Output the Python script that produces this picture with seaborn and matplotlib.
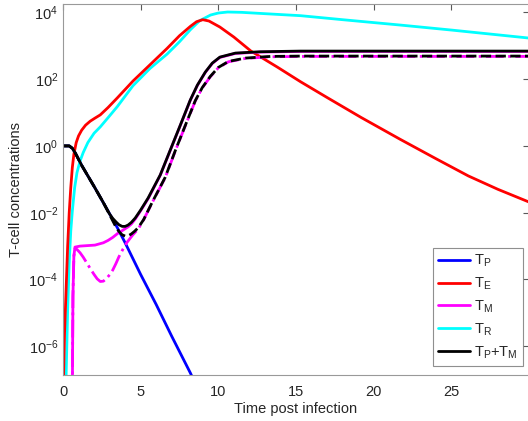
import numpy as np
import pandas as pd
import seaborn as sns
import matplotlib
matplotlib.use('Agg')
import matplotlib.pyplot as plt
from matplotlib.ticker import LogLocator, NullFormatter

# values: time and log10 of concentration
t_P = [0, 0.4, 0.6, 0.8, 1.2, 2.06, 2.9, 3.5, 4.0, 5.0, 6.0, 7.0, 8.2, 9.0]
lg_P = [0, 0, -0.07, -0.22, -0.58, -1.26, -1.95, -2.45, -2.9, -3.85, -4.75, -5.7, -6.8, -7.6]

t_E = [0.0, 0.1, 0.2, 0.3, 0.4, 0.5, 0.6, 0.7, 0.85, 1.0, 1.2, 1.45, 1.75, 2.05, 2.4, 2.9,
       3.5, 4.5, 5.6, 6.7, 7.5, 8.2, 8.6, 9.0, 9.4, 10.1, 11.0, 12.1, 13.8, 15.3, 17.0,
       19.2, 21.7, 24.0, 26.1, 28.0, 30.0]
lg_E = [-7.6, -5.6, -4.3, -3.0, -2.0, -1.25, -0.65, -0.25, 0.1, 0.3, 0.47, 0.62, 0.74,
        0.83, 0.93, 1.15, 1.44, 1.94, 2.43, 2.92, 3.3, 3.58, 3.72, 3.78, 3.74, 3.56, 3.26,
        2.84, 2.36, 1.92, 1.45, 0.85, 0.2, -0.38, -0.9, -1.3, -1.68]

t_R = [0.1, 0.2, 0.3, 0.4, 0.5, 0.6, 0.75, 0.9, 1.1, 1.3, 1.6, 2.0, 2.4, 3.0, 3.5, 4.5,
       5.6, 6.7, 7.5, 8.2, 8.8, 9.5, 10.0, 10.6, 11.5, 13.0, 15.3, 18.0, 21.7, 25.0, 30.0]
lg_R = [-9, -6.9, -4.9, -3.5, -2.55, -1.95, -1.25, -0.8, -0.45, -0.2, 0.1, 0.38, 0.57, 0.9,
        1.18, 1.8, 2.32, 2.75, 3.12, 3.48, 3.75, 3.92, 3.98, 4.01, 4.0, 3.96, 3.9, 3.78,
        3.62, 3.47, 3.23]

t_M = [0.6, 0.64, 0.7, 0.77, 1.1, 2.06, 2.6, 2.9, 3.2, 3.55, 3.8, 4.0, 4.2, 4.4, 4.65, 5.0,
       5.48, 6.26, 6.9, 7.55, 8.19, 8.65, 9.16, 9.61, 10.1, 11.1, 12.7, 15.3, 30.0]
lg_M = [-7.5, -4.5, -3.3, -3.03, -3.0, -2.97, -2.9, -2.83, -2.74, -2.61, -2.54, -2.48,
        -2.42, -2.34, -2.19, -1.94, -1.58, -0.88, -0.14, 0.61, 1.36, 1.81, 2.2, 2.47,
        2.65, 2.77, 2.81, 2.83, 2.83]

t_M2 = [0.6, 0.64, 0.7, 0.77, 0.9, 1.1, 1.3, 1.5, 1.75, 2.0, 2.2, 2.4, 2.6, 2.8, 3.0, 3.2,
        3.4, 3.6, 3.85, 4.1, 4.5, 4.84, 5.2, 5.74, 6.58, 7.23, 7.87, 8.52, 8.97, 9.48,
        10.0, 10.65, 11.74, 13.35, 15.3, 30.0]
lg_M2 = [-7.5, -4.5, -3.3, -3.08, -3.1, -3.2, -3.33, -3.48, -3.67, -3.85, -3.98, -4.06,
         -4.05, -3.97, -3.86, -3.72, -3.53, -3.32, -3.1, -2.9, -2.66, -2.49, -2.2, -1.7,
         -0.95, -0.15, 0.6, 1.35, 1.74, 2.07, 2.34, 2.52, 2.62, 2.67, 2.68, 2.68]

t_PM = [0, 0.4, 0.6, 0.8, 1.2, 2.06, 2.6, 3.0, 3.2, 3.42, 3.6, 3.81, 4.0, 4.19, 4.4, 4.65,
        5.0, 5.48, 6.26, 6.9, 7.55, 8.19, 8.65, 9.16, 9.61, 10.1, 11.1, 12.7, 15.3, 30.0]
lg_PM = [0, 0, -0.07, -0.22, -0.58, -1.26, -1.7, -2.04, -2.17, -2.28, -2.36, -2.41, -2.41,
         -2.37, -2.29, -2.16, -1.92, -1.56, -0.87, -0.13, 0.62, 1.37, 1.82, 2.21, 2.48,
         2.66, 2.78, 2.82, 2.84, 2.84]

t_PM2 = [0, 0.4, 0.6, 0.8, 1.2, 2.06, 2.6, 3.0, 3.2, 3.4, 3.6, 3.8, 4.0, 4.2, 4.39, 4.6,
         4.84, 5.2, 5.74, 6.58, 7.23, 7.87, 8.52, 8.97, 9.48, 10.0, 10.65, 11.74, 13.35,
         15.3, 30.0]
lg_PM2 = [0, 0, -0.07, -0.22, -0.58, -1.26, -1.7, -2.06, -2.24, -2.42, -2.56, -2.66,
          -2.7, -2.69, -2.64, -2.56, -2.45, -2.2, -1.69, -0.94, -0.14, 0.61, 1.36, 1.75,
          2.08, 2.35, 2.53, 2.63, 2.68, 2.69, 2.69]

sns.set_style('white')
plt.rcParams['font.family'] = ['Liberation Sans', 'DejaVu Sans']
plt.rcParams['mathtext.default'] = 'regular'
plt.rcParams['font.size'] = 10

fig = plt.figure(figsize=(5.28, 4.21), dpi=100)
ax = fig.add_axes([63 / 528, 46 / 421, 466 / 528, 371 / 421])


def draw(t, lg, color, ls='-'):
    df = pd.DataFrame({'t': t, 'v': 10 ** np.array(lg, dtype=float)})
    sns.lineplot(data=df, x='t', y='v', color=color, linestyle=ls, lw=2,
                 estimator=None, sort=False, ax=ax, legend=False)


draw(t_P, lg_P, '#0000ff')
draw(t_R, lg_R, '#00ffff')
draw(t_E, lg_E, '#ff0000')
draw(t_M, lg_M, '#ff00ff')
draw(t_M2, lg_M2, '#ff00ff', ls='-.')
draw(t_PM, lg_PM, 'black')
draw(t_PM2, lg_PM2, 'black', ls='--')

ax.set_yscale('log')
ax.set_xlim(0, 30)
ax.set_ylim(10 ** -6.86, 10 ** 4.25)
ax.set_xticks([0, 5, 10, 15, 20, 25])
ax.set_yticks([1e-6, 1e-4, 1e-2, 1e0, 1e2, 1e4])
ax.yaxis.set_minor_locator(LogLocator(base=10, subs=np.arange(1, 10), numticks=30))
ax.yaxis.set_minor_formatter(NullFormatter())
ax.tick_params(which='both', direction='in', top=True, right=True, color='0.35',
               labelsize=10.5)
ax.tick_params(which='major', length=4)
ax.tick_params(axis='x', pad=7)
ax.tick_params(which='minor', length=2, right=False)
for s in ax.spines.values():
    s.set_color('0.6')
    s.set_linewidth(0.8)

ax.set_xlabel('Time post infection', fontsize=10.5, labelpad=2)
ax.set_ylabel('T-cell concentrations', fontsize=10.5, labelpad=4)

names = [r'$T_P$', r'$T_E$', r'$T_M$', r'$T_R$', r'$T_P$+$T_M$']
cols = ['#0000ff', '#ff0000', '#ff00ff', '#00ffff', 'black']
handles = [plt.Line2D([], [], color=c, lw=2) for c in cols]
leg = ax.legend(handles, names, loc='lower right', fontsize=10.5, frameon=True,
                fancybox=False, handlelength=2.2, handletextpad=0.3,
                labelspacing=0.45, borderpad=0.35, borderaxespad=0,
                bbox_to_anchor=((523 - 63) / 466, 9 / 371))
leg.get_frame().set_edgecolor('0.45')
leg.get_frame().set_linewidth(0.8)

fig.savefig('out.png', dpi=100)
